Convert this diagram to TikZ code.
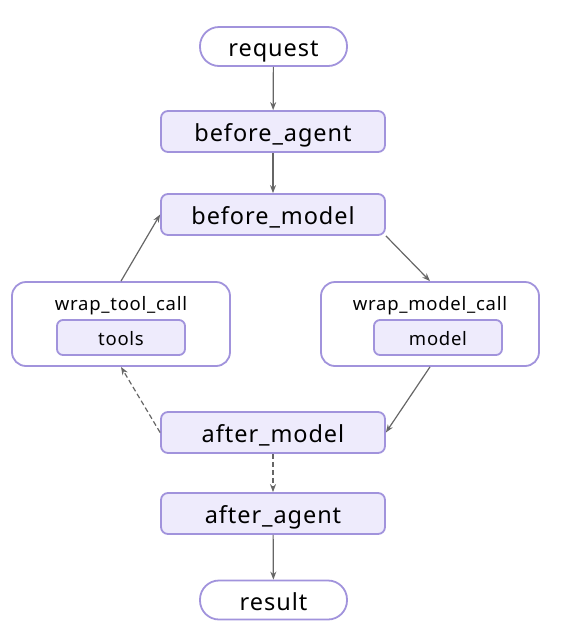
\documentclass[tikz,border=0pt]{standalone}
\usepackage{fontspec}
\setmainfont[LetterSpace=4]{Noto Sans}
\usetikzlibrary{arrows.meta,calc}
\definecolor{bord}{HTML}{A193DC}
\definecolor{fillc}{HTML}{EEEBFC}
\definecolor{arr}{HTML}{666666}
\tikzset{
  x=1pt,y=-1pt,
  hook/.style={draw=bord,line width=1.8pt,fill=fillc,rounded corners=7pt,minimum width=224pt,minimum height=41pt,font=\fontsize{23.5}{25}\selectfont,inner sep=0pt,text height=20pt,text depth=0pt},
  term/.style={draw=bord,line width=1.8pt,fill=white,rounded corners=19pt,minimum width=147pt,minimum height=39pt,font=\fontsize{23.5}{25}\selectfont,inner sep=0pt,text height=20pt,text depth=0pt},
  wrapbox/.style={draw=bord,line width=1.8pt,fill=white,rounded corners=14pt,minimum width=218pt,minimum height=84pt,inner sep=0pt},
  inner/.style={draw=bord,line width=1.8pt,fill=fillc,rounded corners=6pt,minimum width=128pt,minimum height=35pt,font=\fontsize{18.5}{20}\selectfont,inner sep=0pt,text height=16pt,text depth=0pt},
  lbl/.style={font=\fontsize{18.5}{20}\selectfont,inner sep=0pt,text height=16pt,text depth=0pt},
  conn/.style={draw=arr,line width=1.2pt,-{Stealth[length=8pt,width=6pt]}},
  dconn/.style={conn,dash pattern=on 5pt off 3pt}
}
\begin{document}
\begin{tikzpicture}
\useasboundingbox (0,0) rectangle (579,641);
\node[term] (req) at (273.5,46.5) {request};
\node[hook] (ba) at (273,131.5) {before\_agent};
\node[hook] (bm) at (273,214.5) {before\_model};
\node[wrapbox] (wt) at (121,324) {};
\node[lbl] (wtl) at (121,302) {wrap\_tool\_call};
\node[inner] (tools) at (121,337.5) {tools};
\node[wrapbox] (wm) at (430,324) {};
\node[lbl] (wml) at (430,302) {wrap\_model\_call};
\node[inner] (model) at (438,337.5) {model};
\node[hook] (am) at (273,432.5) {after\_model};
\node[hook] (aa) at (273,513.5) {after\_agent};
\node[term] (res) at (273.5,600) {result};
\draw[conn] (req) -- (ba);
\draw[conn] (ba) -- (bm);
\draw[conn] (bm.south east) -- (wm.north);
\draw[conn] (wm.south) -- (am.east);
\draw[dconn] (am.west) -- (wt.south);
\draw[conn] (wt.north) -- (bm.west);
\draw[dconn] (am) -- (aa);
\draw[conn] (aa) -- (res);
\end{tikzpicture}
\end{document}
